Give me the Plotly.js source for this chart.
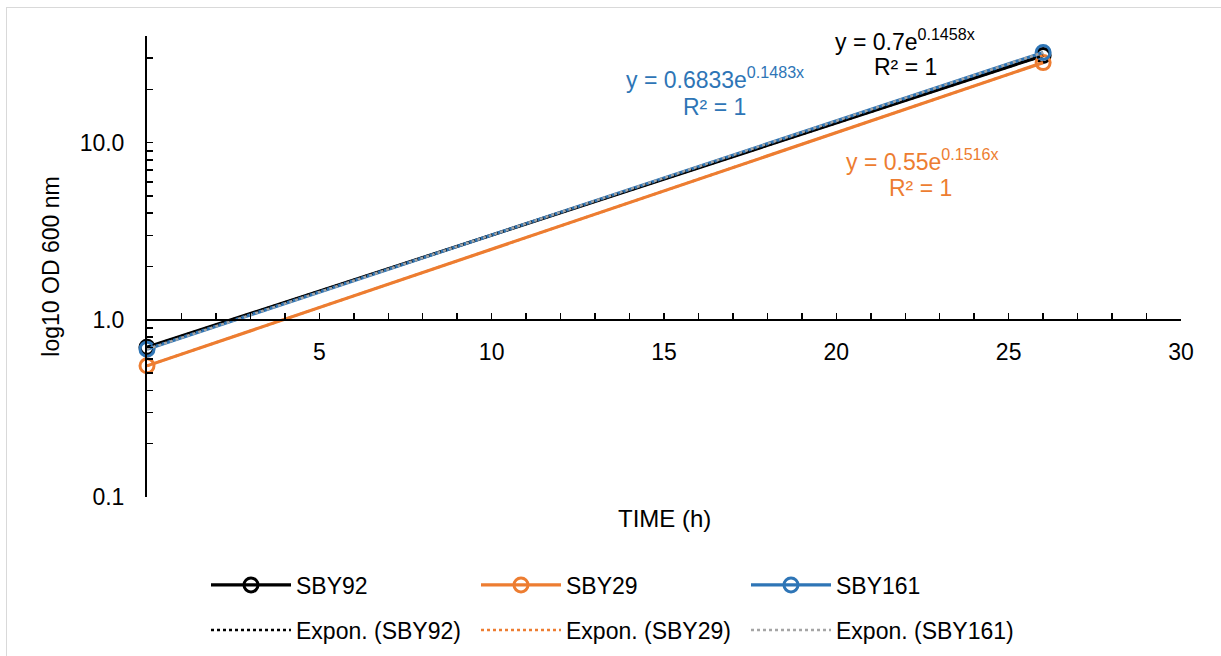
<!DOCTYPE html>
<html><head><meta charset="utf-8">
<script src="https://cdn.plot.ly/plotly-3.0.1.min.js"></script>
<style>
html,body{margin:0;padding:0;background:#fff;}
#wrap{position:relative;width:1221px;height:656px;overflow:hidden;}
#chart{width:1221px;height:656px;}
#frame{position:absolute;left:6px;top:7px;width:1300px;height:700px;border-left:1px solid #d9d9d9;border-top:1px solid #d9d9d9;pointer-events:none;}
</style></head>
<body><div id="wrap"><div id="chart"></div><div id="frame"></div></div>
<script>
// ---- data ----
const timeH = [0, 26];
const sby92 = [0.7, 31.0];
const sby29 = [0.55, 28.3];
const sby161 = [0.6833, 32.3];
const trendTime = [0, 26];
const trendSby92 = [0.7, 31.0];
const trendSby29 = [0.55, 28.3];
const trendSby161 = [0.6833, 32.3];
const xTickVals = [5, 10, 15, 20, 25, 30];
const yTickVals = [0.1, 1, 10];
const yMin = 0.1, yMax = 40;
const eq92 = ["y = 0.7e<sup>0.1458x</sup>", "R² = 1"];
const eq29 = ["y = 0.55e<sup>0.1516x</sup>", "R² = 1"];
const eq161 = ["y = 0.6833e<sup>0.1483x</sup>", "R² = 1"];

const BLACK = '#000000', ORANGE = '#ED7D31', BLUE = '#2E75B6', GREY = '#A5A5A5';
const FONT = 'Liberation Sans, Arial, sans-serif';
const FS = 23;

function dataTrace(name, y, color) {
  return {x: timeH, y: y, name: name, type: 'scatter', mode: 'lines+markers', cliponaxis: false,
    line: {color: color, width: 3.2},
    marker: {symbol: 'circle-open', size: 14, color: color, line: {color: color, width: 3}},
    legend: 'legend'};
}
function trendTrace(name, y, color) {
  return {x: trendTime, y: y, name: name, type: 'scatter', mode: 'lines', cliponaxis: false,
    line: {color: color, width: 2.5, dash: 'dot'}, legend: 'legend2'};
}
const traces = [
  dataTrace('SBY92', sby92, BLACK),
  dataTrace('SBY29', sby29, ORANGE),
  dataTrace('SBY161', sby161, BLUE),
  trendTrace('Expon. (SBY92)', trendSby92, BLACK),
  trendTrace('Expon. (SBY29)', trendSby29, ORANGE),
  trendTrace('Expon. (SBY161)', trendSby161, GREY)
];

// plot-area pixel box
const L = 147, R = 1181, T = 36, B = 497, W = 1221, H = 656;
const px = x => (x - L) / (R - L);
const py = y => (B - y) / (B - T);
const lo = Math.log10(yMin), hi = Math.log10(yMax);
const xAxisPos = (0 - lo) / (hi - lo);

function ann(text, x, y, color) {
  return {text: text, xref: 'paper', yref: 'paper', x: px(x), y: py(y),
    xanchor: 'center', yanchor: 'middle', showarrow: false,
    font: {family: FONT, size: FS, color: color}};
}

const legendCommon = {orientation: 'h', xref: 'container', yref: 'container',
  xanchor: 'left', yanchor: 'middle', font: {size: FS, family: FONT, color: '#000'},
  itemwidth: 80, entrywidth: 175, bgcolor: 'rgba(0,0,0,0)'};

const layout = {
  width: W, height: H,
  margin: {l: L, r: W - R, t: T, b: H - B},
  paper_bgcolor: '#fff', plot_bgcolor: '#fff',
  font: {family: FONT, color: '#000'},
  showlegend: true,
  xaxis: {range: [0, 30], anchor: 'free', position: xAxisPos,
    tickvals: xTickVals, ticks: 'inside', ticklen: 6, tickwidth: 1.5, tickcolor: '#000',
    showline: true, linecolor: '#000', linewidth: 2, showgrid: false, zeroline: false,
    tickfont: {size: FS, family: FONT}, ticklabelstandoff: 12,
    minor: {dtick: 1, ticks: 'inside', ticklen: 6, tickwidth: 1.5, tickcolor: '#000', showgrid: false}},
  yaxis: {type: 'log', range: [lo, hi], tickvals: yTickVals, tickformat: '.1f',
    ticks: 'inside', ticklen: 6, tickwidth: 1.5, tickcolor: '#000',
    showline: true, linecolor: '#000', linewidth: 2, showgrid: false, zeroline: false,
    tickfont: {size: FS, family: FONT}, ticklabelstandoff: 16,
    minor: {dtick: 'D1', ticks: 'inside', ticklen: 6, tickwidth: 1.5, tickcolor: '#000', showgrid: false},
    title: {text: 'log10 OD 600 nm', font: {size: FS, family: FONT}, standoff: 14}},
  legend: Object.assign({}, legendCommon, {x: 206 / W, y: 1 - 585 / H}),
  legend2: Object.assign({}, legendCommon, {x: 206 / W, y: 1 - 630 / H}),
  annotations: [
    {text: 'TIME (h)', xref: 'paper', yref: 'paper', x: 0.5, y: py(518), xanchor: 'center', yanchor: 'middle',
      showarrow: false, font: {family: FONT, size: 24, color: '#000'}},
    ann(eq92[0], 905, 40, BLACK), ann(eq92[1], 905, 67, BLACK),
    ann(eq161[0], 715, 78, BLUE), ann(eq161[1], 714, 107, BLUE),
    ann(eq29[0], 922, 160, ORANGE), ann(eq29[1], 920, 188, ORANGE)
  ]
};
Plotly.newPlot('chart', traces, layout, {displayModeBar: false, staticPlot: true});
</script></body></html>
